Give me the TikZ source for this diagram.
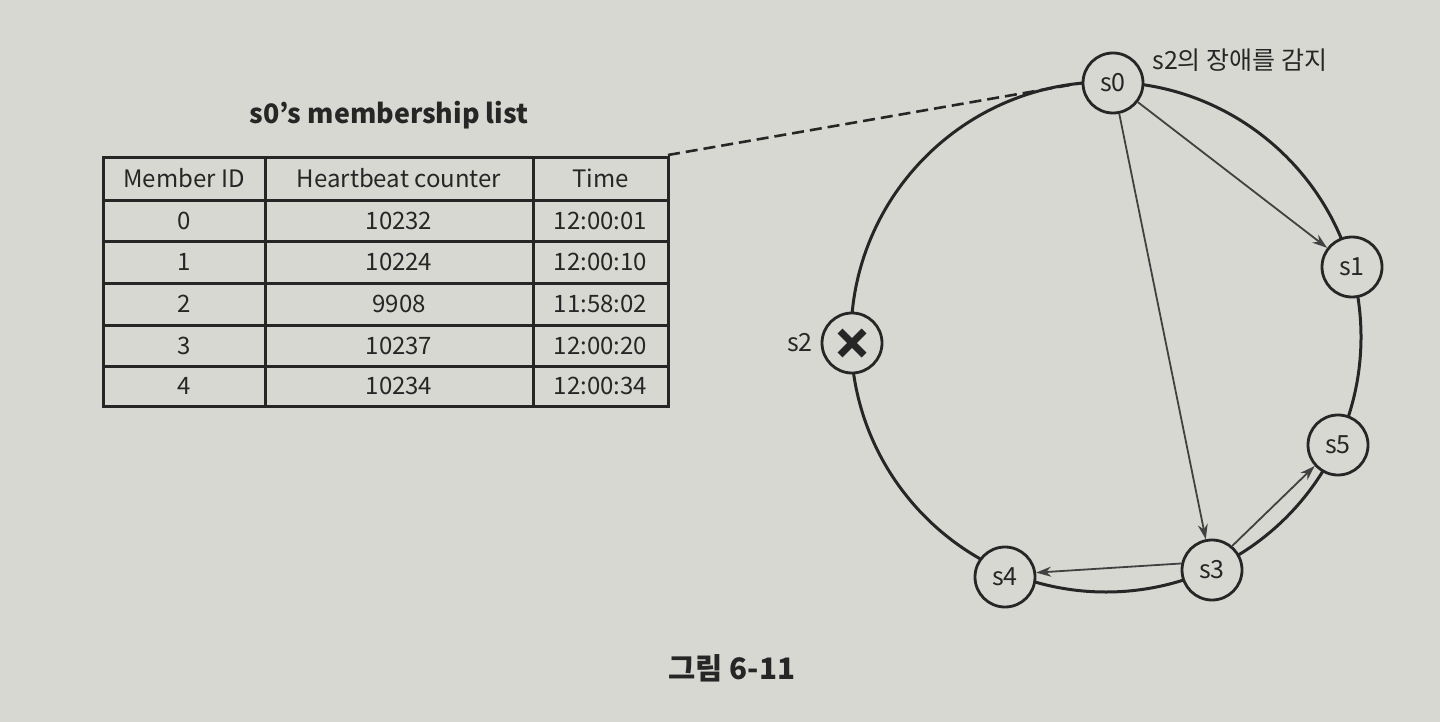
\documentclass[tikz,border=0pt]{standalone}
\usepackage{fontspec}
\setmainfont{Noto Sans CJK KR}
\usetikzlibrary{arrows.meta,calc}
\definecolor{paper}{RGB}{216,216,210}
\definecolor{ink}{RGB}{38,38,38}
\definecolor{arr}{RGB}{65,65,65}
\begin{document}
\begin{tikzpicture}[x=0.5pt,y=-0.5pt,
  srv/.style={circle,draw=ink,line width=1.4pt,fill=paper,minimum size=30pt,inner sep=0pt,font=\fontsize{12.5}{15}\selectfont,text=ink},
  cell/.style={font=\fontsize{12}{14}\selectfont,text=ink,inner sep=0pt},
  grid/.style={draw=ink,line width=1.5pt},
  ring/.style={draw=ink,line width=1.5pt},
  msg/.style={draw=arr,line width=0.9pt,-{Stealth[length=7.5pt,width=5pt]}},
  lbl/.style={font=\fontsize{12.5}{15}\selectfont,text=ink,inner sep=0pt},
]
\fill[paper] (0,0) rectangle (1440,722);
\useasboundingbox (0,0) rectangle (1440,722);

% title
\node[font=\bfseries\fontsize{13.4}{16}\selectfont,text=ink,inner sep=0pt] (title) at (389,115) {s0’s membership list};

% table grid
\coordinate (tl) at (103,157);
\coordinate (br) at (668,406);
\coordinate (tr) at (668,155);
\draw[grid] (tl) rectangle (br);
\foreach \y in {200,241,283,325,366} \draw[grid] (103,\y) -- (668,\y);
\foreach \x in {265,533} \draw[grid] (\x,157) -- (\x,406);

% table text
\node[cell] (h1) at (184,178.5) {Member ID};
\node[cell] (h2) at (399,178.5) {Heartbeat counter};
\node[cell] (h3) at (600.5,178.5) {Time};
\foreach \i/\y/\c/\t in {0/220.5/10232/12:00:01, 1/262/10224/12:00:10, 2/304/9908/11:58:02, 3/345.5/10237/12:00:20, 4/386/10234/12:00:34}{
  \node[cell] (id\i) at (184,\y) {\i};
  \node[cell] (hb\i) at (399,\y) {\c};
  \node[cell] (tm\i) at (600.5,\y) {\t};
}

% ring
\coordinate (rc) at (1106,337);
\draw[ring] (rc) circle [radius=255];

% servers
\node[srv] (s0) at (1113,83) {s0};
\node[srv] (s1) at (1352,267) {s1};
\node[srv] (s2) at (852,343) {};
\node[srv] (s5) at (1338,445) {s5};
\node[srv] (s3) at (1212,570) {s3};
\node[srv] (s4) at (1005,577) {s4};

% cross in s2
\draw[ink,line width=3.4pt] ($(s2)+(-12,-12)$) -- ($(s2)+(12,12)$);
\draw[ink,line width=3.4pt] ($(s2)+(-12,12)$) -- ($(s2)+(12,-12)$);

% labels
\node[lbl,anchor=east] (s2l) at (813,343) {s2};
\node[lbl,anchor=west] (det) at (1152,60) {s2의 장애를 감지};
\node[font=\bfseries\fontsize{14.8}{18}\selectfont,text=ink,inner sep=0pt] (cap) at (732,668) {그림 6-11};

% dashed link
\draw[ink,line width=1.3pt,dash pattern=on 6pt off 3pt] (tr) -- (s0.west);

% messages
\draw[msg] (s0) -- (s1);
\draw[msg] (s0) -- (s3);
\draw[msg] (s3.50) -- (s5.222);
\draw[msg] (s3.168) -- (s4.8);
\end{tikzpicture}
\end{document}
